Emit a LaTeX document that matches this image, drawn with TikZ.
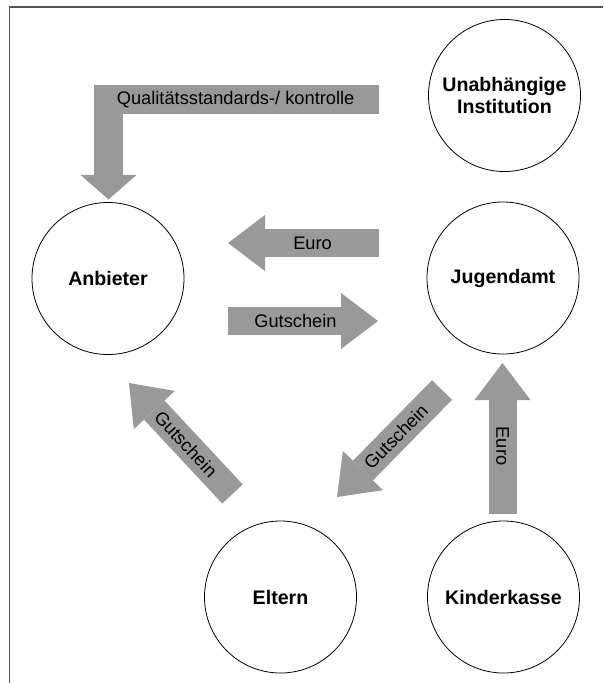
\documentclass[tikz,border=0pt]{standalone}
\usepackage{fontspec}
\setmainfont{Liberation Sans}
\usepackage{tikz}
\usetikzlibrary{arrows.meta}
\usetikzlibrary{positioning}
\definecolor{arrowgray}{RGB}{153,153,153}
\definecolor{framegray}{RGB}{85,85,85}

\begin{document}
\begin{tikzpicture}[x=0.75pt,y=0.75pt,yscale=-1,xscale=1]
  \useasboundingbox (0,0) rectangle (604,683);
  \tikzstyle{party} = [circle,draw,line width=0.6pt,minimum size=114pt,inner sep=0pt,align=center,font=\fontsize{14.7}{17}\selectfont\bfseries]
  \tikzstyle{block} = [draw=arrowgray,line width=21pt,-{Triangle[width=42pt,length=27.75pt,line width=0pt]}]
  \tikzstyle{qblock} = [draw=arrowgray,line width=21.75pt,line join=miter,-{Triangle[width=42pt,length=18.4pt,line width=0pt]}]
  \tikzstyle{lbl} = [font=\fontsize{13.7}{16}\selectfont,inner sep=0pt,text=black]
 %Draw the frame
 \draw [framegray,line width=1pt] (603,7) -- (9.5,7) -- (9.5,683);
 %Draw the circles
 \node[party] (institution) at (504.5,95.5) {Unabhängige\\Institution};
 \node[party] (anbieter) at (108,278.5) {Anbieter};
 \node[party] (jugendamt) at (503,278) {Jugendamt};
 \node[party] (eltern) at (280.5,597) {Eltern};
 \node[party] (kinderkasse) at (503.5,597) {Kinderkasse};
 %Ends of the arrows
 \coordinate (qualA) at (379,99.5);
 \coordinate (qualB) at (108.5,99.5);
 \coordinate (qualC) at (108.5,199.5);
 \coordinate (euroA) at (379,243);
 \coordinate (euroB) at (228,243);
 \coordinate (gutA) at (228,321);
 \coordinate (gutB) at (378,321);
 \coordinate (kasseA) at (502.5,514);
 \coordinate (kasseB) at (502.5,363);
 \coordinate (gutC) at (442,390);
 \coordinate (gutD) at (337,497);
 \coordinate (gutE) at (232.5,494);
 \coordinate (gutF) at (129,383);
 %Draw the arrows
 \draw [qblock] (qualA) -- node[lbl,pos=0.53] {Qualitätsstandards-/ kontrolle} (qualB) -- (qualC);
 \draw [block] (euroA) -- (euroB) node[lbl,pos=0.44] {Euro};
 \draw [block] (gutA) -- (gutB) node[lbl,pos=0.45] {Gutschein};
 \draw [block] (kasseA) -- (kasseB) node[lbl,pos=0.45,rotate=-90] {Euro};
 \draw [block] (gutC) -- (gutD) node[lbl,pos=0.44,rotate=45.5] {Gutschein};
 \draw [block] (gutE) -- (gutF) node[lbl,pos=0.45,rotate=-47] {Gutschein};
\end{tikzpicture}
\end{document}
